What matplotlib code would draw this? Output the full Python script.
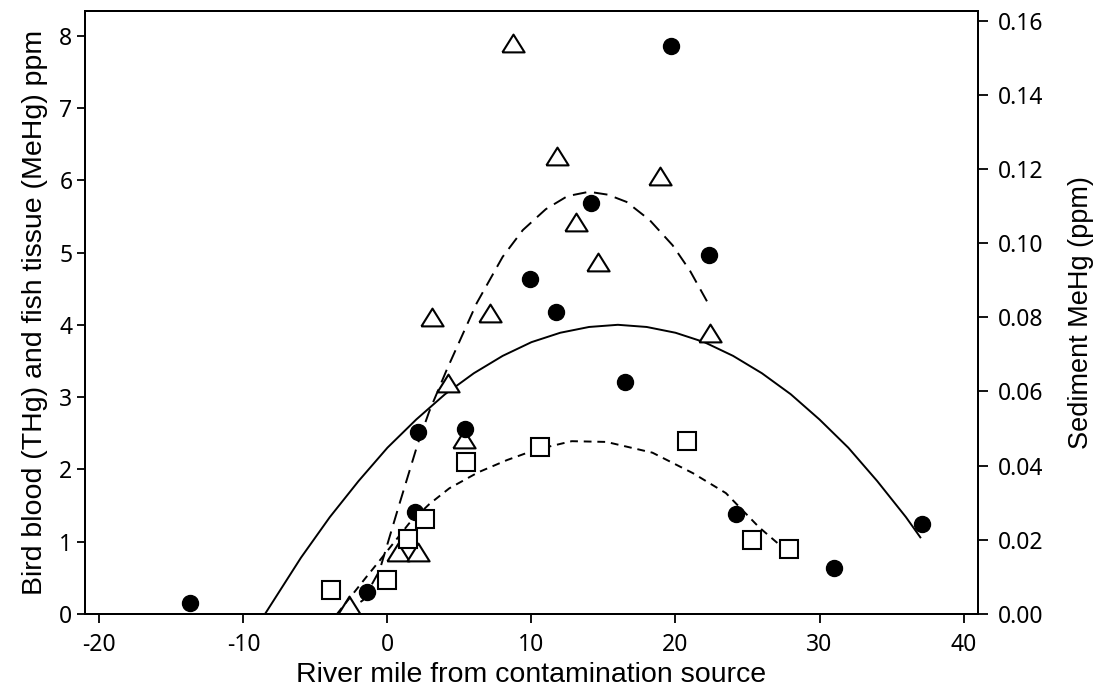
import matplotlib
matplotlib.use("Agg")
import matplotlib.pyplot as plt

# ---- data ----
# Bird blood THg (filled circles, left axis)
bird_x = [-13.7, -1.4, 1.9, 2.1, 5.4, 9.9, 11.7, 14.1, 16.5, 19.7, 22.3, 24.2, 31.0, 37.1]
bird_y = [0.15, 0.30, 1.41, 2.52, 2.56, 4.63, 4.18, 5.69, 3.21, 7.86, 4.97, 1.38, 0.64, 1.24]

# Fish tissue MeHg (open triangles, left axis)
fish_x = [-2.7, 0.7, 2.1, 3.1, 4.2, 5.35, 7.1, 8.7, 11.8, 13.1, 14.6, 18.9, 22.4]
fish_y = [0.12, 0.86, 0.86, 4.11, 3.19, 2.42, 4.16, 7.90, 6.34, 5.42, 4.87, 6.06, 3.89]

# Sediment MeHg (open squares, right axis)
sed_x = [-3.9, 0.0, 1.4, 2.6, 5.45, 10.6, 20.8, 25.3, 27.9]
sed_y = [0.0064, 0.0092, 0.0203, 0.0255, 0.0410, 0.0450, 0.0466, 0.0199, 0.0176]

# Fitted curves
bird_fit_x = [-8.5, -6, -4, -2, 0, 2, 4, 6, 8, 10, 12, 14, 16, 18, 20, 22, 24, 26, 28, 30, 32, 34, 36, 37]
bird_fit_y = [0.0, 0.78, 1.34, 1.84, 2.30, 2.69, 3.04, 3.33, 3.57, 3.76, 3.89, 3.97, 4.00, 3.97,
              3.89, 3.76, 3.57, 3.33, 3.04, 2.69, 2.30, 1.84, 1.34, 1.06]

fish_fit_x = [-3.1, -1.7, -0.55, 0.8, 2.1, 2.9, 4.1, 6.2, 8.0, 9.4, 11.0, 12.5, 14.0, 15.3, 16.6, 18.2, 19.8, 21.0, 22.2]
fish_fit_y = [0.0, 0.19, 0.60, 1.50, 2.35, 2.80, 3.37, 4.30, 4.94, 5.31, 5.60, 5.78, 5.84, 5.80, 5.70, 5.45, 5.10, 4.75, 4.32]

sed_fit_x = [-3.5, -2.5, -1.5, -0.5, 0.5, 1.5, 2.9, 4.3, 6.3, 8.3, 10.3, 12.8, 15.2, 18.4, 21.2, 23.5, 25.8, 27.9]
sed_fit_y = [0.0, 0.0049, 0.0098, 0.0146, 0.0195, 0.0244, 0.0296, 0.0339, 0.0382, 0.0415, 0.0443,
             0.0466, 0.0464, 0.0435, 0.0380, 0.0326, 0.0234, 0.0164]

x_ticks = [-20, -10, 0, 10, 20, 30, 40]
left_ticks = [0, 1, 2, 3, 4, 5, 6, 7, 8]
right_ticks = [0.00, 0.02, 0.04, 0.06, 0.08, 0.10, 0.12, 0.14, 0.16]

# ---- figure ----
fig = plt.figure(figsize=(10.95, 6.94), dpi=100)
ax = fig.add_axes([0.0776, 0.1153, 0.8155, 0.8688])
ax2 = ax.twinx()

tick_family = "Noto Sans"
tick_font = 16.5
lab_family = "Liberation Sans"
lab_font = 20.5
lw_axis = 1.4

tri = [(-1, -0.8), (1, -0.8), (0, 0.8), (-1, -0.8)]

ax.plot(bird_fit_x, bird_fit_y, color="black", lw=1.4, ls="-", zorder=2)
ax.plot(fish_fit_x, fish_fit_y, color="black", lw=1.4, ls=(0, (7, 4)), zorder=2)
ax2.plot(sed_fit_x, sed_fit_y, color="black", lw=1.4, ls=(0, (4, 3)), zorder=2)

ax.plot(fish_x, fish_y, ls="none", marker=tri, ms=16, mfc="white", mec="black", mew=1.5, zorder=3)
ax.plot(bird_x, bird_y, ls="none", marker="o", ms=11.5, mfc="black", mec="black", zorder=4)
ax2.plot(sed_x, sed_y, ls="none", marker="s", ms=12.5, mfc="white", mec="black", mew=1.5, zorder=3)

ax.set_xlim(-21.0, 41.0)
ax.set_ylim(0, 8.34)
ax2.set_ylim(0, 0.1626)

ax.set_xticks(x_ticks)
ax.set_xticklabels([str(v) for v in x_ticks], fontsize=tick_font, family=tick_family)
ax.set_yticks(left_ticks)
ax.set_yticklabels([str(v) for v in left_ticks], fontsize=tick_font, family=tick_family)
ax2.set_yticks(right_ticks)
ax2.set_yticklabels([f"{v:.2f}" for v in right_ticks], fontsize=tick_font, family=tick_family)

for a in (ax, ax2):
    for s in a.spines.values():
        s.set_linewidth(lw_axis)
ax.tick_params(axis="x", direction="out", length=6.5, width=1.3, pad=7, top=False)
ax.tick_params(axis="y", direction="out", length=6, width=1.3, pad=3, right=False)
ax2.tick_params(axis="y", direction="out", length=7, width=1.3, pad=7)

ax.set_xlabel("River mile from contamination source", fontsize=lab_font,
              family=lab_family, labelpad=4)
ax.set_ylabel("Bird blood (THg) and fish tissue (MeHg) ppm", fontsize=lab_font,
              family=lab_family, labelpad=8)
ax2.set_ylabel("Sediment MeHg (ppm)", fontsize=19.5, family=lab_family, labelpad=18)

fig.savefig("out.png", dpi=100)
